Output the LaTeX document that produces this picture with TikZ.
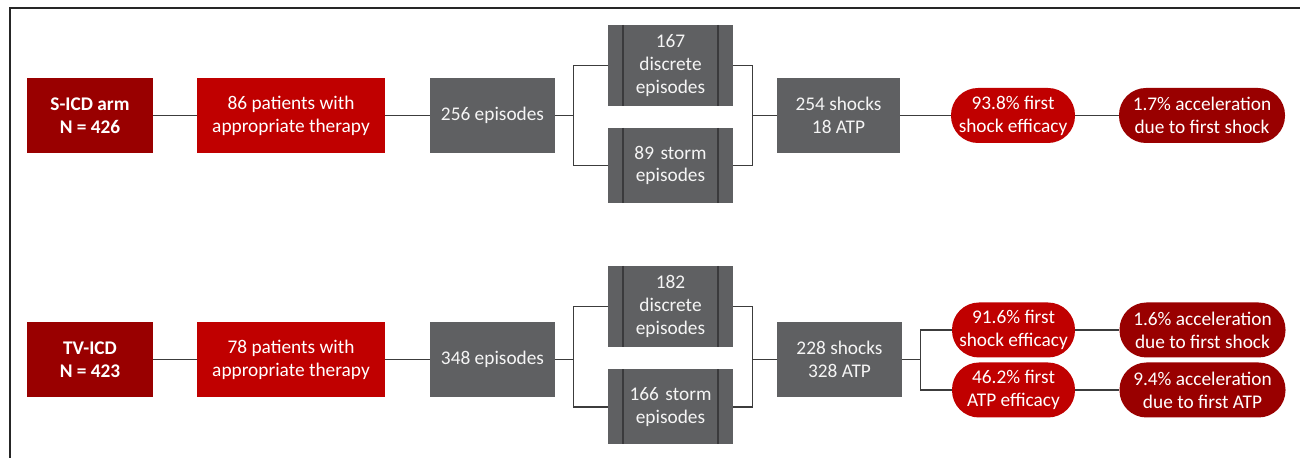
\documentclass[tikz,border=0pt]{standalone}
\usepackage{fontspec}
\setmainfont{Carlito}
\definecolor{armred}{RGB}{153,0,0}
\definecolor{boxred}{RGB}{192,0,0}
\definecolor{boxgray}{RGB}{95,96,98}
\definecolor{bargray}{RGB}{58,58,60}
\definecolor{linegray}{RGB}{60,60,60}
\begin{document}
\begin{tikzpicture}[
  font=\fontsize{11}{13}\selectfont,
  arm/.style={rectangle, fill=armred, text=white, font=\fontsize{11}{13}\selectfont\bfseries, align=center, minimum width=2.52cm, minimum height=1.5cm},
  pat/.style={rectangle, fill=boxred, text=white, align=center, minimum width=3.76cm, minimum height=1.5cm},
  g/.style={rectangle, fill=boxgray, text=white!92!gray, align=center, minimum height=1.5cm},
  sub/.style={g, minimum width=2.5cm, text width=1.8cm,
    path picture={
      \draw[bargray, line width=0.9pt] ([xshift=0.3cm]path picture bounding box.north west) -- ([xshift=0.3cm]path picture bounding box.south west);
      \draw[bargray, line width=0.9pt] ([xshift=-0.3cm]path picture bounding box.north east) -- ([xshift=-0.3cm]path picture bounding box.south east);
    }},
  pill/.style={rectangle, rounded corners=0.54cm, text=white, align=center, minimum height=1.1cm, inner sep=1pt},
  e/.style={draw=linegray, line width=0.8pt}
]
\useasboundingbox (0,0) rectangle (26,-9.16);
\draw[line width=1.6pt, black!85] (0.2,-9.16) -- (0.2,-0.16) -- (26,-0.16);

% S-ICD arm
\node[arm] (arm1) at (1.80,-2.31) {S-ICD arm\\N = 426};
\node[pat] (pat1) at (5.82,-2.31) {86 patients with\\appropriate therapy};
\node[g, minimum width=2.5cm] (eps1) at (9.85,-2.31) {256 episodes};
\node[sub, minimum height=1.62cm] (disc1) at (13.41,-1.31) {167\\discrete\\episodes};
\node[sub] (storm1) at (13.41,-3.31) {89 storm\\episodes};
\node[g, minimum width=2.46cm] (shk1) at (16.77,-2.31) {254 shocks\\18 ATP};
\node[pill, fill=boxred, minimum width=2.48cm] (eff1) at (20.26,-2.31) {93.8\% first\\shock efficacy};
\node[pill, fill=armred, minimum width=3.32cm] (acc1) at (24.04,-2.31) {1.7\% acceleration\\due to first shock};

\draw[e] (arm1) -- (pat1);
\draw[e] (pat1) -- (eps1);
\draw[e] (eps1.east) -- ++(0.36,0) |- (disc1.west);
\draw[e] (eps1.east) -- ++(0.36,0) |- (storm1.west);
\draw[e] (disc1.east) -- ++(0.38,0) |- (shk1.west);
\draw[e] (storm1.east) -- ++(0.38,0) |- (shk1.west);
\draw[e] (shk1) -- (eff1);
\draw[e] (eff1) -- (acc1);

% TV-ICD arm
\node[arm] (arm2) at (1.80,-7.19) {TV-ICD\\N = 423};
\node[pat] (pat2) at (5.82,-7.19) {78 patients with\\appropriate therapy};
\node[g, minimum width=2.5cm] (eps2) at (9.85,-7.19) {348 episodes};
\node[sub, minimum height=1.62cm] (disc2) at (13.41,-6.13) {182\\discrete\\episodes};
\node[sub] (storm2) at (13.41,-8.14) {166 storm\\episodes};
\node[g, minimum width=2.5cm] (shk2) at (16.79,-7.19) {228 shocks\\328 ATP};
\node[pill, fill=boxred, minimum width=2.46cm] (eff2a) at (20.27,-6.60) {91.6\% first\\shock efficacy};
\node[pill, fill=boxred, minimum width=2.46cm] (eff2b) at (20.27,-7.80) {46.2\% first\\ATP efficacy};
\node[pill, fill=armred, minimum width=3.32cm] (acc2a) at (24.05,-6.60) {1.6\% acceleration\\due to first shock};
\node[pill, fill=armred, minimum width=3.32cm] (acc2b) at (24.05,-7.80) {9.4\% acceleration\\due to first ATP};

\draw[e] (arm2) -- (pat2);
\draw[e] (pat2) -- (eps2);
\draw[e] (eps2.east) -- ++(0.36,0) |- (disc2.west);
\draw[e] (eps2.east) -- ++(0.36,0) |- (storm2.west);
\draw[e] (disc2.east) -- ++(0.38,0) |- (shk2.west);
\draw[e] (storm2.east) -- ++(0.38,0) |- (shk2.west);
\draw[e] (shk2.east) -- ++(0.36,0) |- (eff2a.west);
\draw[e] (shk2.east) -- ++(0.36,0) |- (eff2b.west);
\draw[e] (eff2a) -- (acc2a);
\draw[e] (eff2b) -- (acc2b);
\end{tikzpicture}
\end{document}
